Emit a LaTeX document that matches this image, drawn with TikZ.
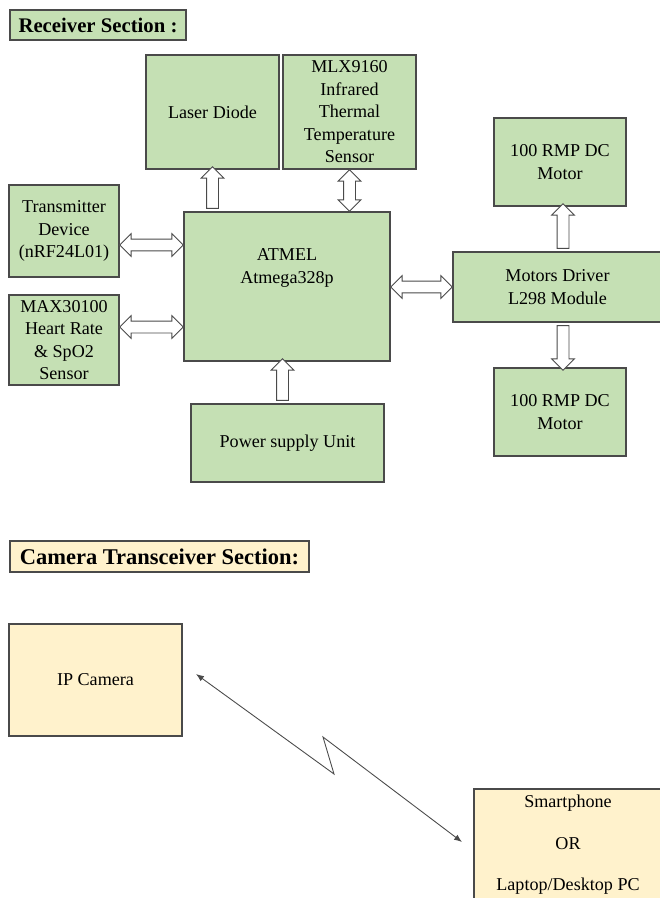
\documentclass[tikz,border=0pt]{standalone}
\usepackage{fontspec}
\setmainfont{Liberation Serif}
\usetikzlibrary{shapes.arrows,arrows.meta,calc}

\definecolor{boxgreen}{HTML}{C5E0B4}
\definecolor{boxyellow}{HTML}{FFF2CC}
\definecolor{rim}{HTML}{4A4A4A}

\tikzset{
  blockfont/.style={font=\fontsize{10.3}{12.8}\selectfont},
  greenbox/.style={draw=rim, fill=boxgreen, line width=0.8pt, align=center, inner sep=1pt, blockfont},
  yellowbox/.style={draw=rim, fill=boxyellow, line width=0.8pt, align=center, inner sep=1pt, blockfont},
  titlebox/.style={draw=rim, line width=0.8pt, inner sep=1pt},
  onearrow/.style={single arrow, draw=rim, fill=white, line width=0.5pt,
    inner xsep=0pt, inner ysep=0.11cm, single arrow head extend=0.11cm,
    single arrow head indent=0pt},
  twoarrow/.style={double arrow, draw=rim, fill=white, line width=0.5pt,
    inner xsep=0pt, inner ysep=0.11cm, double arrow head extend=0.11cm,
    double arrow head indent=0pt},
  zap/.style={draw=rim, line width=0.5pt, {Latex[length=4.5pt,width=3.5pt]}-{Latex[length=4.5pt,width=3.5pt]}}
}

% hollow arrow laid from one point to another
\newcommand{\hollow}[4]{%
  \path let \p1=(#3), \p2=(#4), \n1={veclen(\x2-\x1,\y2-\y1)} in
    (#3) -- node[#1, sloped, allow upside down, minimum height=\n1] (#2) {} (#4);}

\begin{document}
\begin{tikzpicture}[x=0.02cm,y=-0.02cm]
\useasboundingbox (0,0) rectangle (659,898);

% receiver section
\node[titlebox, fill=boxgreen, minimum width=3.52cm, minimum height=0.6cm,
  font=\bfseries\fontsize{11.8}{14}\selectfont] (rtitle) at (98,25) {Receiver Section :};

\node[greenbox, minimum width=2.66cm, minimum height=2.28cm] (laser) at (212.5,112) {Laser Diode};
\node[greenbox, minimum width=2.66cm, minimum height=2.28cm] (mlx) at (349.5,112) {MLX9160\\Infrared\\Thermal\\Temperature\\Sensor};
\node[greenbox, minimum width=2.2cm, minimum height=1.84cm] (trans) at (64,231) {Transmitter\\Device\\(nRF24L01)};
\node[greenbox, minimum width=2.2cm, minimum height=1.8cm] (max) at (64,340) {MAX30100\\Heart Rate\\\& SpO2\\Sensor};
\node[greenbox, minimum width=4.12cm, minimum height=2.98cm] (atmel) at (287,286.5) {};
\node[blockfont, align=center] (atmeltxt) at (287,268) {ATMEL\\Atmega328p};
\node[greenbox, minimum width=3.86cm, minimum height=1.56cm] (power) at (287.5,443) {Power supply Unit};
\node[greenbox, minimum width=4.18cm, minimum height=1.4cm] (driver) at (557.5,287) {Motors Driver\\L298 Module};
\node[greenbox, minimum width=2.64cm, minimum height=1.76cm] (motortop) at (560,162) {100 RMP DC\\Motor};
\node[greenbox, minimum width=2.64cm, minimum height=1.76cm] (motorbot) at (560,412) {100 RMP DC\\Motor};

\coordinate (transin) at ($(trans.east)+(0,14)$);
\coordinate (maxin) at ($(max.east)+(0,-13)$);
\coordinate (powerout) at ($(power.north)+(-5,0)$);
\coordinate (motorx) at ($(motortop.south)+(3,0)$);

\hollow{onearrow}{a1}{laser.south |- atmel.north}{laser.south}
\hollow{twoarrow}{a2}{mlx.south}{mlx.south |- atmel.north}
\hollow{twoarrow}{a3}{transin}{transin -| atmel.west}
\hollow{twoarrow}{a4}{maxin}{maxin -| atmel.west}
\hollow{twoarrow}{a5}{driver.west -| atmel.east}{driver.west}
\hollow{onearrow}{a6}{motorx |- driver.north}{motorx}
\hollow{onearrow}{a7}{motorx |- driver.south}{motorx |- motorbot.north}
\hollow{onearrow}{a8}{powerout}{powerout |- atmel.south}

% camera transceiver section
\node[titlebox, fill=boxyellow, minimum width=5.98cm, minimum height=0.62cm,
  font=\bfseries\fontsize{12.8}{14}\selectfont] (ctitle) at (159.5,556.5) {Camera Transceiver Section:};

\node[yellowbox, minimum width=3.46cm, minimum height=2.24cm] (ipcam) at (95.5,680) {IP Camera};
\node[yellowbox, minimum width=3.76cm, minimum height=2.24cm] (phone) at (568,845) {Smartphone\\[0.38cm]OR\\[0.38cm]Laptop/Desktop PC};

\coordinate (camtip) at (196,674);
\coordinate (zigdown) at (334,774);
\coordinate (zigup) at (323,737);
\coordinate (phonetip) at (462,842);
\draw[zap] (camtip) -- (zigdown) -- (zigup) -- (phonetip);
\end{tikzpicture}
\end{document}
